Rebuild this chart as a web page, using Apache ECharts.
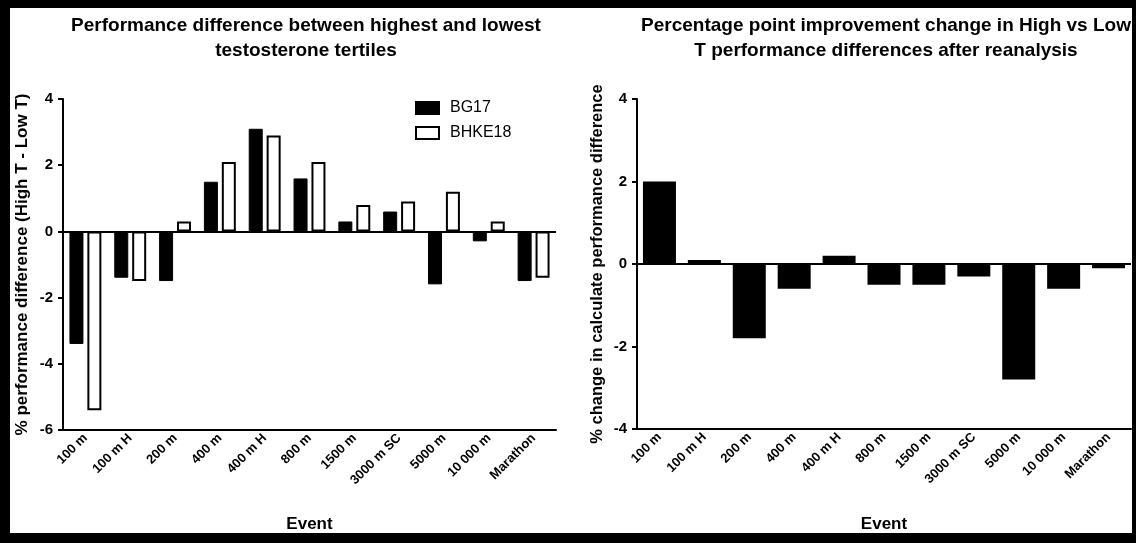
<!DOCTYPE html>
<html>
<head>
<meta charset="utf-8">
<script src="https://cdn.jsdelivr.net/npm/echarts@6/dist/echarts.min.js"></script>
<style>
html,body{margin:0;padding:0;background:#fff;}
#chart{width:1136px;height:543px;}
</style>
</head>
<body>
<div id="chart"></div>
<script>
const events = ['100 m','100 m H','200 m','400 m','400 m H','800 m','1500 m','3000 m SC','5000 m','10 000 m','Marathon'];
const bg17 = [-3.4,-1.4,-1.5,1.5,3.1,1.6,0.3,0.6,-1.6,-0.3,-1.5];
const bhke18 = [-5.4,-1.5,0.3,2.1,2.9,2.1,0.8,0.9,1.2,0.3,-1.4];
const change = [2.0,0.1,-1.8,-0.6,0.2,-0.5,-0.5,-0.3,-2.8,-0.6,-0.1];
const leftTicks = {min:-6,max:4,interval:2};
const rightTicks = {min:-4,max:4,interval:2};

const FONT = 'Liberation Sans, Arial, sans-serif';
const chart = echarts.init(document.getElementById('chart'));

function xAxisDef(gridIndex, gap){
  return {
    type:'category', gridIndex, data:events,
    axisLine:{onZero:false, lineStyle:{color:'#000',width:2}},
    axisTick:{alignWithLabel:true, length:5, lineStyle:{color:'#000',width:2}},
    axisLabel:{rotate:45, color:'#000', fontWeight:'bold', fontSize:13, fontFamily:FONT, margin:6, interval:0},
    name:'Event', nameLocation:'middle', nameGap:gap,
    nameTextStyle:{color:'#000', fontWeight:'bold', fontSize:17, fontFamily:FONT}
  };
}
function yAxisDef(gridIndex, t, name, gap, fs){
  return {
    type:'value', gridIndex, min:t.min, max:t.max, interval:t.interval,
    axisLine:{show:true, lineStyle:{color:'#000',width:2}},
    axisTick:{show:true, length:5, lineStyle:{color:'#000',width:2}},
    splitLine:{show:false},
    axisLabel:{color:'#000', fontWeight:'bold', fontSize:15, fontFamily:FONT, margin:10},
    name, nameLocation:'middle', nameRotate:90, nameGap:gap,
    nameTextStyle:{color:'#000', fontWeight:'bold', fontSize:fs, fontFamily:FONT}
  };
}
const zeroLine = {
  silent:true, symbol:['none','none'], label:{show:false},
  lineStyle:{color:'#000', width:2, type:'solid'},
  data:[{yAxis:0}]
};

chart.setOption({
  animation:false,
  backgroundColor:'#fff',
  title:[
    {text:'Performance difference between highest and lowest\ntestosterone tertiles', left:301, top:8, textAlign:'center',
     textStyle:{color:'#000', fontWeight:'bold', fontSize:19, fontFamily:FONT, lineHeight:25}},
    {text:'Percentage point improvement change in High vs Low\nT performance differences after reanalysis', left:881, top:8, textAlign:'center',
     textStyle:{color:'#000', fontWeight:'bold', fontSize:19, fontFamily:FONT, lineHeight:25}}
  ],
  legend:{
    data:['BG17','BHKE18'], orient:'vertical', left:415, top:100, padding:0,
    itemWidth:23, itemHeight:12, itemGap:9, icon:'rect',
    textStyle:{color:'#000', fontSize:16, fontFamily:FONT, padding:[0,0,0,6]}
  },
  grid:[
    {left:63, top:99, width:493, height:331},
    {left:637, top:99, width:494, height:330}
  ],
  xAxis:[xAxisDef(0, 86), xAxisDef(1, 87)],
  yAxis:[
    yAxisDef(0, leftTicks, '% performance difference (High T - Low T)', 32, 17),
    yAxisDef(1, rightTicks, '% change in calculate performance difference', 31, 16.5)
  ],
  series:[
    {name:'BG17', type:'bar', xAxisIndex:0, yAxisIndex:0, data:bg17, barWidth:14, barGap:'28%',
     itemStyle:{color:'#000', borderColor:'#000', borderWidth:1}, markLine:zeroLine},
    {name:'BHKE18', type:'bar', xAxisIndex:0, yAxisIndex:0, data:bhke18, barWidth:14, barGap:'28%',
     itemStyle:{color:'#fff', borderColor:'#000', borderWidth:2}},
    {name:'Change', type:'bar', xAxisIndex:1, yAxisIndex:1, data:change, barWidth:33,
     itemStyle:{color:'#000'}, markLine:zeroLine}
  ],
  graphic:[
    {type:'rect', shape:{x:0,y:0,width:1136,height:8}, style:{fill:'#000'}, z:100},
    {type:'rect', shape:{x:0,y:0,width:10,height:543}, style:{fill:'#000'}, z:100},
    {type:'rect', shape:{x:0,y:533,width:1136,height:10}, style:{fill:'#000'}, z:100},
    {type:'rect', shape:{x:1132,y:0,width:4,height:543}, style:{fill:'#000'}, z:100}
  ]
});
</script>
</body>
</html>
